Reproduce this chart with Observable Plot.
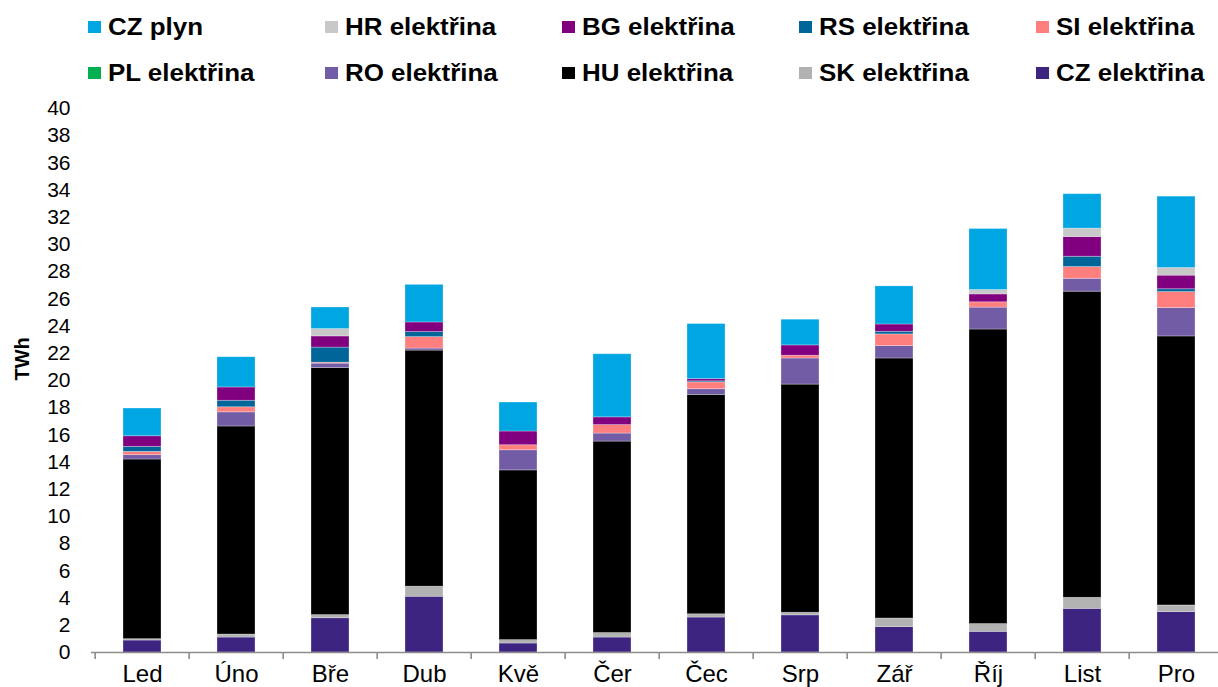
<!DOCTYPE html>
<html>
<head>
<meta charset="utf-8">
<script src="https://cdn.jsdelivr.net/npm/d3@7"></script>
<script src="https://cdn.jsdelivr.net/npm/@observablehq/plot@0.6"></script>
<style>
  html, body { margin: 0; padding: 0; background: #fff; }
  body { width: 1218px; height: 687px; overflow: hidden; font-family: "Liberation Sans", Arial, sans-serif; }
  #legend { position: relative; height: 95px; }
  .item { position: absolute; display: flex; align-items: center; font-weight: bold; font-size: 24px; color: #000; white-space: nowrap; }
  .sw { width: 13px; height: 12px; margin-right: 7px; flex: none; }
  .lbl { display: inline-block; transform: scaleX(1.08); transform-origin: left center; }
</style>
</head>
<body>
<div id="legend"></div>
<div id="chart"></div>
<script>
const months = ["Led", "Úno", "Bře", "Dub", "Kvě", "Čer", "Čec", "Srp", "Zář", "Říj", "List", "Pro"];

// TWh per month
const czElektrina = [0.88, 1.10, 2.52, 4.10, 0.66, 1.10, 2.57, 2.73, 1.87, 1.52, 3.21, 2.97];
const skElektrina = [0.10, 0.22, 0.23, 0.74, 0.25, 0.33, 0.24, 0.19, 0.63, 0.57, 0.81, 0.49];
const huElektrina = [13.21, 15.30, 18.17, 17.36, 12.48, 14.08, 16.13, 16.78, 19.12, 21.66, 22.51, 19.78];
const roElektrina = [0.32, 1.04, 0.32, 0.15, 1.48, 0.59, 0.42, 1.92, 0.91, 1.61, 0.95, 2.09];
const plElektrina = [0, 0, 0, 0, 0, 0, 0, 0, 0, 0, 0, 0];
const siElektrina = [0.24, 0.37, 0.07, 0.84, 0.37, 0.62, 0.50, 0.20, 0.86, 0.39, 0.86, 1.17];
const rsElektrina = [0.37, 0.48, 1.11, 0.37, 0.00, 0.00, 0.08, 0.00, 0.19, 0.00, 0.76, 0.21];
const bgElektrina = [0.78, 0.98, 0.82, 0.71, 1.01, 0.57, 0.16, 0.76, 0.54, 0.58, 1.45, 1.00];
const hrElektrina = [0, 0, 0.54, 0, 0, 0, 0, 0, 0, 0.32, 0.62, 0.56];
const czPlyn = [2.04, 2.22, 1.59, 2.76, 2.13, 4.64, 4.05, 1.89, 2.80, 4.49, 2.53, 5.25];

const yTicks = d3.range(0, 41, 2);

// stacking order, bottom to top
const seriesNames = ["CZ elektřina", "SK elektřina", "HU elektřina", "RO elektřina", "PL elektřina",
                     "SI elektřina", "RS elektřina", "BG elektřina", "HR elektřina", "CZ plyn"];
const seriesValues = [czElektrina, skElektrina, huElektrina, roElektrina, plElektrina,
                      siElektrina, rsElektrina, bgElektrina, hrElektrina, czPlyn];
const seriesColors = ["#3c2480", "#b2b2b2", "#000000", "#735ca6", "#00b050",
                      "#ff7f7f", "#00669a", "#800080", "#c8c8c8", "#00a6e2"];

// legend order (two rows of five)
const legendOrder = ["CZ plyn", "HR elektřina", "BG elektřina", "RS elektřina", "SI elektřina",
                     "PL elektřina", "RO elektřina", "HU elektřina", "SK elektřina", "CZ elektřina"];

const table = [];
seriesNames.forEach((s, si) => {
  months.forEach((m, mi) => table.push({month: m, series: s, value: seriesValues[si][mi]}));
});

// legend
const legend = document.getElementById("legend");
legendOrder.forEach((name, i) => {
  const col = i % 5, row = Math.floor(i / 5);
  const item = document.createElement("div");
  item.className = "item";
  item.style.left = (88 + col * 237) + "px";
  item.style.top = (13 + row * 46) + "px";
  item.style.height = "28px";
  const sw = document.createElement("span");
  sw.className = "sw";
  sw.style.background = seriesColors[seriesNames.indexOf(name)];
  const lbl = document.createElement("span");
  lbl.className = "lbl";
  lbl.textContent = name;
  item.appendChild(sw);
  item.appendChild(lbl);
  legend.appendChild(item);
});

const top0 = 95;
const xLeft = 91, xRight = 1227;
const step = (xRight - xLeft) / months.length;

const chart = Plot.plot({
  width: 1218,
  height: 592,
  marginTop: 13,
  marginBottom: 35,
  marginLeft: 91,
  marginRight: 0,
  style: {fontFamily: "'Liberation Sans', Arial, sans-serif", color: "#000", background: "#fff", overflow: "visible"},
  x: {domain: months, range: [xLeft, xRight], paddingInner: 0.6, paddingOuter: 0.3},
  y: {domain: [0, 40], range: [652 - top0, 108 - top0]},
  color: {domain: seriesNames, range: seriesColors},
  marks: [
    Plot.gridY(yTicks, {stroke: "#d9d9d9", strokeOpacity: 1, strokeWidth: 1.4, x1: xLeft, x2: xRight}),
    Plot.barY(table, {x: "month", y: "value", fill: "series", stroke: "#ffffff", strokeOpacity: 0.35, strokeWidth: 0.8}),
    Plot.ruleY([0], {stroke: "#8c8c8c", strokeWidth: 1.6}),
    Plot.axisX({tickSize: 0, tickPadding: 12, fontSize: 24, label: null}),
    Plot.axisX({tickSize: 7, tickFormat: () => "", dx: -step / 2, stroke: "#8c8c8c", strokeWidth: 1.6, label: null}),
    Plot.axisY(yTicks, {tickSize: 0, tickPadding: 21, fontSize: 21, label: null}),
    Plot.text(["TWh"], {frameAnchor: "left", rotate: -90, dx: -69, fontWeight: "bold", fontSize: 20, fill: "#000"})
  ]
});
document.getElementById("chart").appendChild(chart);
</script>
</body>
</html>
